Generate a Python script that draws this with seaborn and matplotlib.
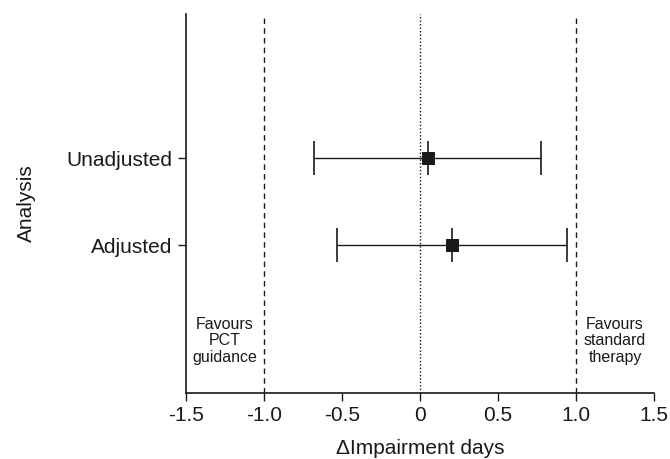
import matplotlib
matplotlib.use("Agg")
import matplotlib.pyplot as plt
import seaborn as sns
import pandas as pd

# Estimates and 95% CIs
analyses = ["Unadjusted", "Adjusted"]
estimates = [0.05, 0.205]
ci_low = [-0.68, -0.53]
ci_high = [0.775, 0.94]
positions = [2, 1]

xticks = [-1.5, -1.0, -0.5, 0, 0.5, 1.0, 1.5]
xtick_labels = ["-1.5", "-1.0", "-0.5", "0", "0.5", "1.0", "1.5"]

df = pd.DataFrame({"Analysis": analyses, "est": estimates, "lo": ci_low,
                   "hi": ci_high, "pos": positions})

sns.set_style("ticks")
plt.rcParams["font.family"] = ["Liberation Sans", "DejaVu Sans"]
plt.rcParams["text.color"] = "#1a1a1a"
plt.rcParams["axes.labelcolor"] = "#1a1a1a"
plt.rcParams["xtick.color"] = "#1a1a1a"
plt.rcParams["ytick.color"] = "#1a1a1a"

fig = plt.figure(figsize=(6.7, 4.59), dpi=100)
ax = fig.add_axes([0.2776, 0.1438, 0.6985, 0.8257])

# reference lines
ax.axvline(-1.0, color="#1a1a1a", lw=1.0, ls=(0, (4, 3)))
ax.axvline(1.0, color="#1a1a1a", lw=1.0, ls=(0, (4, 3)))
ax.axvline(0, color="#1a1a1a", lw=1.0, ls=(0, (1, 1.5)))

# CI whiskers with caps
ax.errorbar(df["est"], df["pos"],
            xerr=[df["est"] - df["lo"], df["hi"] - df["est"]],
            fmt="none", ecolor="#1a1a1a", elinewidth=1.0,
            capsize=12.5, capthick=1.2)
# vertical tick at estimate
ax.plot(df["est"], df["pos"], ls="none", marker="|", markersize=25,
        mew=1.2, color="#1a1a1a")
sns.scatterplot(data=df, x="est", y="pos", marker="s", s=80,
                color="#1a1a1a", edgecolor="#1a1a1a", ax=ax, zorder=5)

ax.set_xlim(-1.5, 1.5)
ax.set_ylim(-0.7, 3.66)
ax.set_xticks(xticks)
ax.set_xticklabels(xtick_labels)
ax.set_yticks(df["pos"])
ax.set_yticklabels(df["Analysis"])
ax.tick_params(axis="both", labelsize=15, length=6, width=1.0)
ax.set_xlabel("\u0394Impairment days", fontsize=15, labelpad=10)
ax.set_ylabel("Analysis", fontsize=15, labelpad=22)

sns.despine(ax=ax, top=True, right=True)
for sp in ["left", "bottom"]:
    ax.spines[sp].set_linewidth(1.2)
    ax.spines[sp].set_color("#1a1a1a")

ax.text(-1.25, -0.1, "Favours\nPCT\nguidance", ha="center", va="center",
        fontsize=11.5, linespacing=1.1)
ax.text(1.25, -0.1, "Favours\nstandard\ntherapy", ha="center", va="center",
        fontsize=11.5, linespacing=1.1)

fig.savefig("out.png", dpi=100)
